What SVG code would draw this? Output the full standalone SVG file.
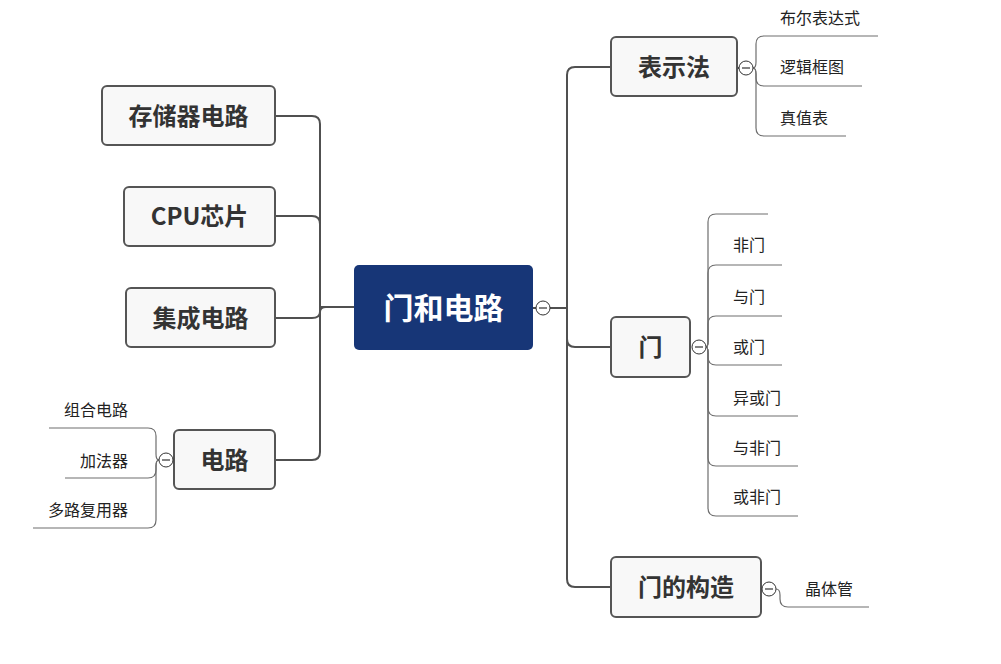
<svg xmlns="http://www.w3.org/2000/svg" width="1001" height="664" viewBox="0 0 1001 664">
<style>
.bg{fill:#ffffff}
.main{fill:none;stroke:#505050;stroke-width:2}
.sub{fill:none;stroke:#6e6e6e;stroke-width:1.2}
.box{fill:#f8f8f8;stroke:#555555;stroke-width:2}
.root{fill:#173677;stroke:none}
.lbl{font-family:"Noto Sans CJK SC","Noto Sans",sans-serif;font-weight:bold;font-size:24px;fill:#333333;text-anchor:middle}
.rootlbl{font-family:"Noto Sans CJK SC","Noto Sans",sans-serif;font-weight:bold;font-size:30px;fill:#ffffff;text-anchor:middle}
.leaf{font-family:"Noto Sans CJK SC","Noto Sans",sans-serif;font-size:16px;fill:#222222}
.tog circle{fill:#ffffff;stroke:#333333;stroke-width:1}
.tog line{stroke:#333333;stroke-width:1.2}
</style>
<rect class="bg" x="0" y="0" width="1001" height="664"/>
<g id="connectors">
  <path class="main" d="M354,307 H320 V124 Q320,116 312,116 H275"/>
  <path class="main" d="M354,307 H320 V224 Q320,216 312,216 H275"/>
  <path class="main" d="M354,307 H326 Q320,307 320,312 Q320,318 312,318 H275"/>
  <path class="main" d="M354,307 H320 V452 Q320,460 312,460 H275"/>
  <path class="main" d="M533,308 H536"/>
  <path class="main" d="M550,308 H567 V75 Q567,67 575,67 H611"/>
  <path class="main" d="M550,308 H567 V339 Q567,347 575,347 H611"/>
  <path class="main" d="M550,308 H567 V579 Q567,587 575,587 H611"/>
  <path class="main" d="M737,68 H739"/>
  <path class="main" d="M690,347 H691"/>
  <path class="main" d="M761,589 H762"/>
  <path class="main" d="M174,460 H173"/>
  <path class="sub" d="M753,68 Q756,68 756,62 V44 Q756,36 764,36 H878"/>
  <path class="sub" d="M753,68 Q756,68 756,74 V78 Q756,86 764,86 H862"/>
  <path class="sub" d="M753,68 Q756,68 756,74 V128 Q756,136 764,136 H846"/>
  <path class="sub" d="M706,347 Q708,347 708,341 V222 Q708,214 716,214 H768"/>
  <path class="sub" d="M706,347 Q708,347 708,341 V273 Q708,265 716,265 H782"/>
  <path class="sub" d="M706,347 Q708,347 708,341 V324 Q708,316 716,316 H782"/>
  <path class="sub" d="M706,347 Q708,347 708,353 V357 Q708,365 716,365 H782"/>
  <path class="sub" d="M706,347 Q708,347 708,353 V408 Q708,416 716,416 H798"/>
  <path class="sub" d="M706,347 Q708,347 708,353 V458 Q708,466 716,466 H798"/>
  <path class="sub" d="M706,347 Q708,347 708,353 V508 Q708,516 716,516 H798"/>
  <path class="sub" d="M776,589 Q780,589 780,595 V599 Q780,607 788,607 H869"/>
  <path class="sub" d="M159,460 Q156,460 156,454 V436 Q156,428 148,428 H49"/>
  <path class="sub" d="M159,460 Q156,460 156,466 V470 Q156,478 148,478 H65"/>
  <path class="sub" d="M159,460 Q156,460 156,466 V520 Q156,528 148,528 H33"/>
</g>
<g id="root">
  <rect class="root" x="354" y="265" width="179" height="85" rx="5"/>
  <text class="rootlbl" x="443.5" y="319">门和电路</text>
  <g class="tog"><circle cx="543" cy="308" r="7"/><line x1="539" y1="308" x2="547" y2="308"/></g>
</g>
<g id="n-cunchu">
  <rect class="box" x="102" y="86" width="173" height="59" rx="5"/>
  <text class="lbl" x="188.5" y="125">存储器电路</text>
</g>
<g id="n-cpu">
  <rect class="box" x="124" y="187" width="151" height="59" rx="5"/>
  <text class="lbl" x="199.5" y="225">CPU芯片</text>
</g>
<g id="n-jicheng">
  <rect class="box" x="126" y="288" width="149" height="59" rx="5"/>
  <text class="lbl" x="200.5" y="327">集成电路</text>
</g>
<g id="n-dianlu">
  <rect class="box" x="174" y="430" width="101" height="59" rx="5"/>
  <text class="lbl" x="224.5" y="469">电路</text>
  <g class="tog"><circle cx="166" cy="460" r="7"/><line x1="162" y1="460" x2="170" y2="460"/></g>
  <text class="leaf" x="128" y="416" text-anchor="end">组合电路</text>
  <text class="leaf" x="128" y="467" text-anchor="end">加法器</text>
  <text class="leaf" x="128" y="516" text-anchor="end">多路复用器</text>
</g>
<g id="n-biaoshi">
  <rect class="box" x="611" y="37" width="126" height="59" rx="5"/>
  <text class="lbl" x="674" y="76">表示法</text>
  <g class="tog"><circle cx="746" cy="68" r="7"/><line x1="742" y1="68" x2="750" y2="68"/></g>
  <text class="leaf" x="780" y="24">布尔表达式</text>
  <text class="leaf" x="780" y="73">逻辑框图</text>
  <text class="leaf" x="780" y="124">真值表</text>
</g>
<g id="n-men">
  <rect class="box" x="611" y="317" width="79" height="60" rx="5"/>
  <text class="lbl" x="650.5" y="356">门</text>
  <g class="tog"><circle cx="699" cy="347" r="7"/><line x1="695" y1="347" x2="703" y2="347"/></g>
  <text class="leaf" x="733" y="251">非门</text>
  <text class="leaf" x="733" y="303">与门</text>
  <text class="leaf" x="733" y="353">或门</text>
  <text class="leaf" x="733" y="404">异或门</text>
  <text class="leaf" x="733" y="454">与非门</text>
  <text class="leaf" x="733" y="503">或非门</text>
</g>
<g id="n-gouzao">
  <rect class="box" x="611" y="557" width="150" height="60" rx="5"/>
  <text class="lbl" x="686" y="596">门的构造</text>
  <g class="tog"><circle cx="769" cy="589" r="7"/><line x1="765" y1="589" x2="773" y2="589"/></g>
  <text class="leaf" x="805" y="595">晶体管</text>
</g>
</svg>
